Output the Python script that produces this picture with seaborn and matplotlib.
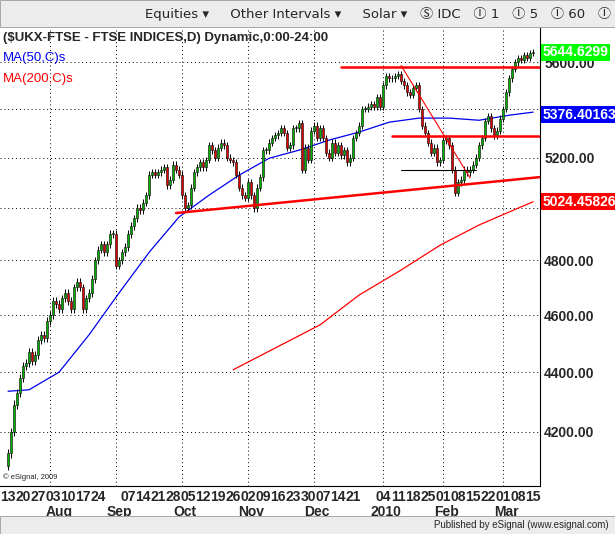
import numpy as np
import pandas as pd
import matplotlib
matplotlib.use("Agg")
import matplotlib.pyplot as plt
import seaborn as sns
from matplotlib.ticker import FixedLocator, NullLocator

# daily closes, one row per week (Mon..Fri), 13 Jul 2009 .. 15 Mar 2010
closes = [
    4130, 4200, 4290, 4330, 4380,
    4420, 4430, 4470, 4440, 4460,
    4510, 4530, 4520, 4580, 4600,
    4650, 4640, 4620, 4660, 4680,
    4650, 4620, 4700, 4720, 4700,
    4620, 4660, 4680, 4730, 4800,
    4840, 4860, 4830, 4860, 4900,
    4900, 4780, 4800, 4830, 4850,
    4900, 4930, 4960, 5000, 4990,
    5020, 5050, 5130, 5140, 5130,
    5140, 5150, 5160, 5090, 5110,
    5170, 5150, 5130, 5050, 5000,
    5010, 5080, 5140, 5160, 5180,
    5160, 5190, 5250, 5230, 5200,
    5240, 5260, 5250, 5200, 5190,
    5180, 5130, 5080, 5050, 5040,
    5100, 5050, 5000, 5080, 5120,
    5230, 5230, 5260, 5280, 5290,
    5300, 5320, 5300, 5240, 5250,
    5320, 5320, 5340, 5150, 5240,
    5190, 5310, 5330, 5280, 5320,
    5280, 5220, 5200, 5260, 5220,
    5250, 5210, 5230, 5180, 5200,
    5280, 5300, 5330, 5400, 5400,
    5410, 5420, 5410, 5450, 5410,
    5500, 5540, 5530, 5530, 5540,
    5550, 5520, 5500, 5470, 5460,
    5490, 5500, 5400, 5330, 5300,
    5260, 5220, 5240, 5180, 5190,
    5270, 5280, 5250, 5150, 5060,
    5100, 5110, 5150, 5140, 5150,
    5170, 5200, 5250, 5280, 5350,
    5370, 5320, 5290, 5310, 5360,
    5400, 5470, 5530, 5570, 5600,
    5620, 5610, 5630, 5620, 5640,
    5644,
]
first_open = 4090
wick = 14

# moving averages (bar index, value)
ma50_idx = [0, 7, 17, 27, 37, 47, 57, 67, 77, 87, 97, 107, 117, 127, 137, 147, 157, 167, 175]
ma50_val = [4335, 4340, 4400, 4530, 4680, 4830, 4965, 5050, 5129, 5197, 5230, 5271,
            5304, 5345, 5362, 5362, 5353, 5374, 5387]
ma200_idx = [75, 91, 104, 117, 131, 144, 157, 167, 175]
ma200_val = [4408, 4494, 4565, 4672, 4764, 4857, 4934, 4984, 5024]

# drawn trend lines (idx0, idx1, v0, v1, colour, width)
trend_lines = [
    (111, 177, 5580, 5580, "red", 1.8),
    (56, 177, 4980, 5121, "red", 1.8),
    (128, 177, 5287, 5287, "red", 1.8),
    (131, 154, 5586, 5118, "red", 0.8),
    (131, 156, 5150, 5150, "black", 0.8),
]

week_labels = ["13", "20", "27", "03", "10", "17", "24", "", "07", "14", "21", "28",
               "05", "12", "19", "26", "02", "09", "16", "23", "30", "07", "14", "21",
               "", "04", "11", "18", "25", "01", "08", "15", "22", "01", "08", "15"]
months = ["Aug", "Sep", "Oct", "Nov", "Dec", "2010", "Feb", "Mar"]
month_idx = [17, 37, 59, 81, 103, 126, 146, 166]
month_lines = [14, 36, 58, 80, 102, 125, 145, 165]
y_ticks = [4200, 4400, 4600, 4800, 5000, 5200, 5400, 5600]
hidden_ticks = [5000, 5400]  # covered by the MA value boxes

sns.set_style("white")
plt.rcParams["font.family"] = ["Liberation Sans", "DejaVu Sans"]

fig = plt.figure(figsize=(6.15, 5.34), dpi=100)
ax = fig.add_axes([0.0, 0.09, 540 / 615, 0.859])

n = len(closes)
idx = np.arange(n)
opens = [first_open] + closes[:-1]
for i in idx:
    o, c = opens[i], closes[i]
    lo, hi = min(o, c), max(o, c)
    ax.vlines(i, lo - wick, hi + wick, color="black", lw=0.7, zorder=3)
    ax.bar(i, max(hi - lo, 3), bottom=lo, width=0.75,
           color="#00b000" if c >= o else "#e00000", edgecolor="black", lw=0.4, zorder=4)

sns.lineplot(x=ma50_idx, y=ma50_val, color="#0000ee", lw=0.9, ax=ax, zorder=2)
sns.lineplot(x=ma200_idx, y=ma200_val, color="red", lw=0.9, ax=ax, zorder=2)
for x0, x1, v0, v1, col, w in trend_lines:
    ax.plot([x0, x1], [v0, v1], color=col, lw=w, zorder=5)

ax.set_yscale("log")
ax.set_ylim(4027, 5755)
ax.set_xlim(-2.7, 177.3)
ax.yaxis.tick_right()
ax.yaxis.set_major_locator(FixedLocator(y_ticks))
ax.yaxis.set_minor_locator(NullLocator())
ax.set_yticklabels(["" if v in hidden_ticks else f"{v:.2f}" for v in y_ticks],
                   fontsize=10, fontweight="bold")
ax.tick_params(axis="y", length=0, pad=3)
for v in y_ticks:
    ax.axhline(v, color="black", ls=(0, (1, 3)), lw=0.7, zorder=1)
for m in month_lines:
    ax.axvline(m, color="black", ls=(0, (1, 3)), lw=0.7, zorder=1)

ax.set_xticks(np.arange(0, 176, 5))
ax.set_xticklabels(week_labels, fontsize=10, fontweight="bold")
ax.tick_params(axis="x", length=0, pad=3)
for m, i in zip(months, month_idx):
    ax.text(i, -0.042, m, transform=ax.get_xaxis_transform(), ha="center", va="top",
            fontsize=10, fontweight="bold")
for s in ["left", "top"]:
    ax.spines[s].set_visible(False)
ax.spines["right"].set_color("black")
ax.spines["bottom"].set_color("black")

ax.text(0.005, 0.99, "($UKX-FTSE - FTSE INDICES,D) Dynamic,0:00-24:00", transform=ax.transAxes,
        va="top", fontsize=9.5, fontweight="bold")
ax.text(0.005, 0.945, "MA(50,C)s", transform=ax.transAxes, va="top", fontsize=9.5, color="#0000ee")
ax.text(0.005, 0.90, "MA(200,C)s", transform=ax.transAxes, va="top", fontsize=9.5, color="red")
ax.text(0.005, 0.015, "© eSignal, 2009", transform=ax.transAxes, fontsize=5.5)

boxes = [(5644.63, "5644.6299", "#00ff00", "white"), (5376.40, "5376.40163", "#0000ff", "white"),
         (5024.46, "5024.45826", "#ff0000", "white")]
for v, s, bg, fg in boxes:
    ax.text(1.005, v, s, transform=ax.get_yaxis_transform(), va="center", ha="left",
            fontsize=10, fontweight="bold", color=fg, clip_on=False, zorder=10,
            bbox=dict(boxstyle="square,pad=0.1", fc=bg, ec="none"))

# toolbar and footer bands
fig.patches.append(plt.Rectangle((0, 1 - 27 / 534), 1, 27 / 534, transform=fig.transFigure,
                                 fc="#ececec", ec="#999999", lw=0.6))
fig.text(0.235, 1 - 14 / 534, "Equities ▾     Other Intervals ▾     Solar ▾   Ⓢ IDC   Ⓘ 1   Ⓘ 5   Ⓘ 60   Ⓘ Daily",
         va="center", fontsize=9.5, family=["DejaVu Sans", "Noto Sans CJK SC"])
fig.patches.append(plt.Rectangle((0, 0), 1, 18 / 534, transform=fig.transFigure,
                                 fc="#ececec", ec="#999999", lw=0.6))
fig.text(0.99, 9 / 534, "Published by eSignal (www.esignal.com)", ha="right", va="center", fontsize=7)

fig.savefig("out.png", dpi=100)
